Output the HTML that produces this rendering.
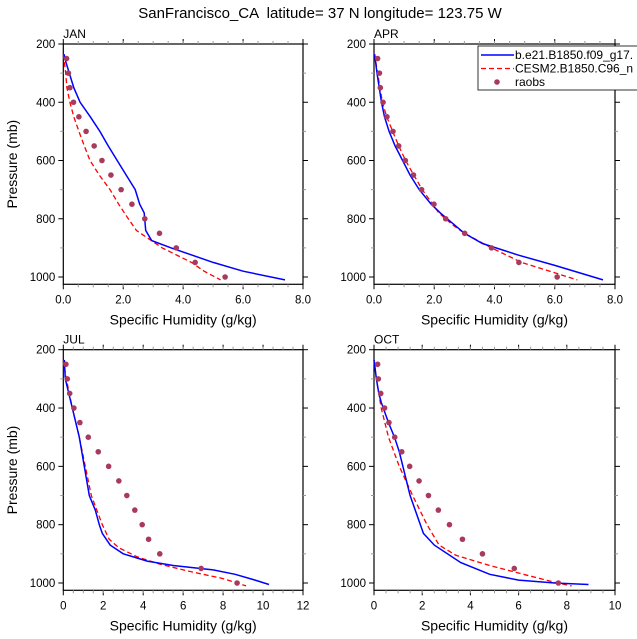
<!DOCTYPE html>
<html><head><meta charset="utf-8"><style>
html,body{margin:0;padding:0;background:#fff;}
svg{display:block;font-family:"Liberation Sans",Arial,sans-serif;}
</style></head><body>
<svg id="chart" width="637" height="639" viewBox="0 0 637 639" xmlns="http://www.w3.org/2000/svg">
<text x="320" y="18" text-anchor="middle" font-size="15" style="white-space:pre" xml:space="preserve">SanFrancisco_CA  latitude= 37 N longitude= 123.75 W</text>
</svg>
<script>
const months = ["JAN","APR","JUL","OCT"];
const obsP = [250,300,350,400,450,500,550,600,650,700,750,800,850,900,950,1000];
const obsJAN = [0.11,0.17,0.22,0.34,0.52,0.76,1.03,1.29,1.59,1.93,2.29,2.72,3.21,3.77,4.4,5.4];
const obsAPR = [0.12,0.18,0.21,0.3,0.43,0.63,0.82,1.04,1.31,1.58,1.99,2.38,3.01,3.9,4.81,6.08];
const obsJUL = [0.13,0.2,0.32,0.53,0.83,1.25,1.75,2.27,2.78,3.18,3.58,3.95,4.27,4.83,6.9,8.7];
const obsOCT = [0.15,0.18,0.28,0.44,0.62,0.86,1.15,1.48,1.87,2.26,2.67,3.13,3.67,4.5,5.82,7.65];
const blueP_JAN = [235,250,300,350,400,450,500,550,600,650,700,750,780,840,875,900,950,980,1010];
const blueQ_JAN = [0.03,0.05,0.2,0.35,0.56,0.9,1.22,1.5,1.8,2.1,2.4,2.55,2.7,2.75,2.95,3.6,5.0,6.0,7.4];
const redP_JAN = [235,300,350,400,450,500,550,600,650,700,750,800,840,875,900,950,980,1010];
const redQ_JAN = [0.0,0.08,0.12,0.22,0.35,0.52,0.7,0.89,1.2,1.56,1.85,2.17,2.44,2.94,3.3,4.28,4.7,5.25];
const blueP_APR = [235,300,400,450,500,550,600,650,700,750,780,850,885,925,960,1010];
const blueQ_APR = [0.02,0.1,0.25,0.35,0.5,0.7,0.95,1.2,1.5,1.9,2.2,3.0,3.6,4.8,6.0,7.6];
const redP_APR = [235,300,400,450,500,550,600,650,700,750,780,820,850,900,950,1010];
const redQ_APR = [0.02,0.12,0.28,0.42,0.62,0.82,1.05,1.32,1.6,1.95,2.15,2.6,3.0,3.9,4.9,6.75];
const blueP_JUL = [235,300,400,500,600,700,750,800,830,870,900,925,940,955,970,990,1005];
const blueQ_JUL = [0.05,0.1,0.45,0.8,1.05,1.3,1.6,1.8,1.95,2.35,3.0,4.2,5.5,7.5,8.6,9.6,10.3];
const redP_JUL = [235,300,400,500,600,700,800,850,880,910,935,960,985,1010];
const redQ_JUL = [0.0,0.15,0.45,0.8,1.1,1.4,1.95,2.3,2.8,3.7,4.8,6.3,8.0,9.15];
const blueP_OCT = [235,300,350,380,450,500,550,600,700,830,870,930,970,990,1000,1005];
const blueQ_OCT = [0.0,0.1,0.2,0.3,0.6,0.85,1.05,1.2,1.5,2.05,2.5,3.6,4.8,6.0,7.5,8.9];
const redP_OCT = [235,300,400,500,600,700,800,870,905,940,970,1000,1010];
const redQ_OCT = [0.0,0.1,0.3,0.6,1.05,1.6,2.2,2.7,3.4,4.8,6.2,7.6,8.2];
const xMaxs = [8,8,12,10];
const xTickLabels = [["0.0","2.0","4.0","6.0","8.0"],["0.0","2.0","4.0","6.0","8.0"],["0","2","4","6","8","10","12"],["0","2","4","6","8","10"]];
const yTicks = [200,400,600,800,1000];
const legendLabels = ["b.e21.B1850.f09_g17.","CESM2.B1850.C96_n","raobs"];

const panels = [
 {x0:63.3,x1:303,y200:44,y1000:277,obs:obsJAN,bp:blueP_JAN,bq:blueQ_JAN,rp:redP_JAN,rq:redQ_JAN},
 {x0:374,x1:615,y200:44,y1000:277,obs:obsAPR,bp:blueP_APR,bq:blueQ_APR,rp:redP_APR,rq:redQ_APR},
 {x0:63.3,x1:303,y200:349.7,y1000:583,obs:obsJUL,bp:blueP_JUL,bq:blueQ_JUL,rp:redP_JUL,rq:redQ_JUL},
 {x0:374,x1:615,y200:349.7,y1000:583,obs:obsOCT,bp:blueP_OCT,bq:blueQ_OCT,rp:redP_OCT,rq:redQ_OCT}
];
const NS="http://www.w3.org/2000/svg";
const svg=document.getElementById('chart');
function mk(tag,attrs,parent){const e=document.createElementNS(NS,tag);for(const k in attrs)e.setAttribute(k,attrs[k]);(parent||svg).appendChild(e);return e;}
panels.forEach((p,i)=>{
 const g=mk('g',{});
 
 
 const xMax=xMaxs[i];
 const sx=v=>p.x0+(p.x1-p.x0)*v/xMax;
 const sy=pr=>p.y200+(p.y1000-p.y200)*(pr-200)/800;
 const yb=sy(1025);
 const frame=mk('rect',{x:p.x0,y:p.y200,width:p.x1-p.x0,height:yb-p.y200,fill:'none',stroke:'#000','stroke-width':1.2},g);
 
 
 const t=mk('text',{x:p.x0,y:p.y200-6,'font-size':12},g);t.textContent=months[i];
 
 
 const lbls=xTickLabels[i];const step=xMax/(lbls.length-1);
 for(let k=0;k<lbls.length;k++){
  const x=sx(k*step);
  mk('line',{x1:x,x2:x,y1:p.y200,y2:p.y200-5,stroke:'#000'},g);
  mk('line',{x1:x,x2:x,y1:yb,y2:yb+5,stroke:'#000'},g);
  const tl=mk('text',{x:x,y:yb+19,'font-size':11.5,'text-anchor':'middle'},g);tl.textContent=lbls[k];
  
  
 }
 const mstep=step/4;
 for(let v=mstep;v<xMax;v+=mstep){const x=sx(v);
  mk('line',{x1:x,x2:x,y1:p.y200,y2:p.y200-3,stroke:'#999'},g);
  mk('line',{x1:x,x2:x,y1:yb,y2:yb+3,stroke:'#999'},g);}
 yTicks.forEach(v=>{const y=sy(v);
  mk('line',{x1:p.x0,x2:p.x0-5,y1:y,y2:y,stroke:'#000'},g);
  mk('line',{x1:p.x1,x2:p.x1+5,y1:y,y2:y,stroke:'#000'},g);
  const tl=mk('text',{x:p.x0-8,y:y+4,'font-size':11.5,'text-anchor':'end'},g);tl.textContent=v;
  
  
 });
 for(let v=300;v<=1000;v+=200){const y=sy(v);
  mk('line',{x1:p.x0,x2:p.x0-3,y1:y,y2:y,stroke:'#999'},g);
  mk('line',{x1:p.x1,x2:p.x1+3,y1:y,y2:y,stroke:'#999'},g);}
 const xl=mk('text',{x:(p.x0+p.x1)/2,y:yb+40,'font-size':14,'text-anchor':'middle'},g);xl.textContent='Specific Humidity (g/kg)';
 
 
 if(i%2===0){const cy=(p.y200+yb)/2;
  const yl=mk('text',{x:17,y:cy,'font-size':14,'text-anchor':'middle',transform:`rotate(-90 17 ${cy})`},g);yl.textContent='Pressure (mb)';
  
  }
 const pts=(P,Q)=>P.map((pr,k)=>sx(Q[k]).toFixed(1)+','+sy(pr).toFixed(1)).join(' ');
 const rl=mk('polyline',{points:pts(p.rp,p.rq),fill:'none',stroke:'#f00','stroke-width':1.3,'stroke-dasharray':'5,3'},g);
 
 
 const bl=mk('polyline',{points:pts(p.bp,p.bq),fill:'none',stroke:'#00f','stroke-width':1.5},g);
 
 
 p.obs.forEach((v,k)=>{const c=mk('circle',{cx:sx(v),cy:sy(obsP[k]),r:2.8,fill:'#a83a5e'},g);
  
  });
});
const lg=mk('g',{});


mk('rect',{x:478,y:46,width:170,height:44,fill:'#fff',stroke:'#000','stroke-width':0.8},lg);
mk('line',{x1:481,x2:514,y1:55,y2:55,stroke:'#00f','stroke-width':1.5},lg);
mk('line',{x1:481,x2:514,y1:68.5,y2:68.5,stroke:'#f00','stroke-width':1.3,'stroke-dasharray':'5,3'},lg);
mk('circle',{cx:497,cy:82,r:2.8,fill:'#a83a5e'},lg);
legendLabels.forEach((s,k)=>{const t=mk('text',{x:515,y:59+k*13.5,'font-size':12},lg);t.textContent=s;
 
 });
</script>
</body></html>
